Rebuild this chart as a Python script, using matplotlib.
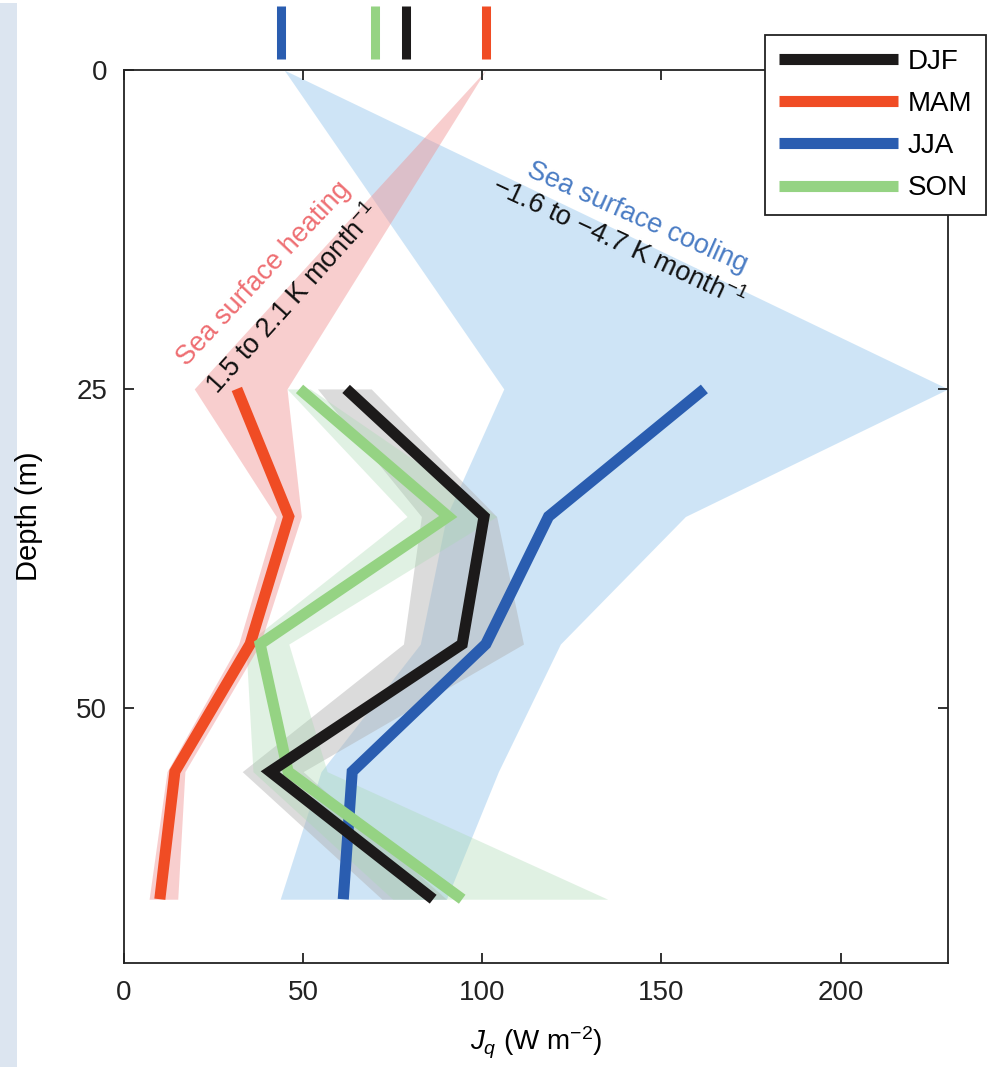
import matplotlib
matplotlib.use("Agg")
import matplotlib.pyplot as plt
from matplotlib.patches import Rectangle
from matplotlib import font_manager

plt.rcParams['font.family'] = ['Liberation Sans', 'DejaVu Sans']
plt.rcParams['mathtext.fontset'] = 'custom'
plt.rcParams['mathtext.rm'] = 'Liberation Sans'
plt.rcParams['mathtext.it'] = 'Liberation Sans:italic'

# ---- data ----
depth = [25, 35, 45, 55, 65]
djf = [62, 100.5, 94.4, 40.8, 86.3]
mam = [31.5, 46.0, 35.2, 14.2, 10.0]
jja = [162, 118.5, 101, 63.7, 61.2]
son = [49, 90.5, 38, 45.8, 94.4]

# uncertainty bands (depth 0 = surface value for MAM/JJA)
band_depth_surf = [0, 25, 35, 45, 55, 65]
mam_lo = [101, 19.6, 42.5, 32, 12, 7]
mam_hi = [101, 45.5, 49.5, 38, 17, 15]
jja_lo = [44.7, 106, 90, 82.7, 55, 43.6]
jja_hi = [44.7, 230, 156.7, 121.8, 104.5, 90]
djf_lo = [54, 83, 78, 33, 72]
djf_hi = [69, 104, 111.5, 50, 90]
son_lo = [45.5, 79, 34, 36, 75]
son_hi = [52, 104, 46, 56.7, 135]

# surface flux markers (top)
surf_season = ['JJA', 'SON', 'DJF', 'MAM']
surf_value = [43.7, 70.2, 78.6, 101.0]

seasons = ['DJF', 'MAM', 'JJA', 'SON']
colors = {'DJF': '#1c1a1a', 'MAM': '#f04c24', 'JJA': '#2a5db0', 'SON': '#95d383'}

xticks = [0, 50, 100, 150, 200]
yticks = [0, 25, 50]

names = {f.name for f in font_manager.fontManager.ttflist}
ylab_family = ['Liberation Sans Narrow'] if 'Liberation Sans Narrow' in names else ['Liberation Sans']

# ---- figure ----
fig = plt.figure(figsize=(9.88, 10.67), dpi=100)
fig.patches.append(Rectangle((0, 0), 17 / 988, 1 - 3 / 1067, transform=fig.transFigure,
                             facecolor='#dce5f0', edgecolor='none', zorder=-10))
ax = fig.add_axes([124 / 988, 1 - 963 / 1067, (948 - 124) / 988, (963 - 70) / 1067])

ax.fill_betweenx(band_depth_surf, jja_lo, jja_hi, color='#9ecbef', alpha=0.5, lw=0, zorder=1)
ax.fill_betweenx(depth, djf_lo, djf_hi, color='#b0b0b0', alpha=0.45, lw=0, zorder=1.1)
ax.fill_betweenx(depth, son_lo, son_hi, color='#a8d9b0', alpha=0.35, lw=0, zorder=1.2)
ax.fill_betweenx(band_depth_surf, mam_lo, mam_hi, color='#f08c8c', alpha=0.42, lw=0, zorder=1.3)

LW = 8.0
series = {'DJF': djf, 'MAM': mam, 'JJA': jja, 'SON': son}
for s in ['MAM', 'JJA', 'SON', 'DJF']:
    ax.plot(series[s], depth, color=colors[s], lw=LW, solid_capstyle='butt',
            solid_joinstyle='miter', zorder=3)

handles = [plt.Line2D([], [], color=colors[s], lw=LW, solid_capstyle='butt') for s in seasons]

for s, v in zip(surf_season, surf_value):
    ax.plot([v, v], [-5.0, -0.85], color=colors[s], lw=6.5, solid_capstyle='butt', clip_on=False, zorder=5)

ax.set_xlim(0, 230)
ax.set_ylim(70, 0)
ax.set_xticks(xticks)
ax.set_yticks(yticks)
ax.tick_params(direction='in', length=7, width=1.3, labelsize=20, top=True, right=True,
               pad=12, colors='#222222')
for sp in ax.spines.values():
    sp.set_linewidth(1.3)
    sp.set_color('#222222')

ax.set_xlabel('$J_q$ (W m$^{-2}$)', fontsize=20, labelpad=14)
ax.set_ylabel('Depth (m)', fontsize=21, labelpad=24, family=ylab_family)

ax.text(17.5, 23.3, 'Sea surface heating', color='#ee6e72', fontsize=19.5, rotation=47,
        rotation_mode='anchor', ha='left', va='baseline', zorder=6)
ax.text(26, 25.5, '1.5 to 2.1 K month$^{-1}$', color='#111111', fontsize=19.5, rotation=48,
        rotation_mode='anchor', ha='left', va='baseline', zorder=6)
ax.text(112, 8.3, 'Sea surface cooling', color='#4a7cc4', fontsize=19.5, rotation=-24,
        rotation_mode='anchor', ha='left', va='baseline', zorder=6)
ax.text(102, 9.6, '\u22121.6 to \u22124.7 K month$^{-1}$', color='#111111', fontsize=19.5, rotation=-25,
        rotation_mode='anchor', ha='left', va='baseline', zorder=6)

leg = ax.legend(handles, seasons, loc='upper left', bbox_to_anchor=(765 / 988, 1 - 35 / 1067),
                bbox_transform=fig.transFigure, borderaxespad=0, fontsize=20, handlelength=4.3,
                handletextpad=0.35, labelspacing=0.58, fancybox=False, framealpha=1,
                edgecolor='#222222', borderpad=0.5)
leg.get_frame().set_linewidth(1.3)
leg.set_zorder(10)

fig.savefig('out.png', dpi=100)
